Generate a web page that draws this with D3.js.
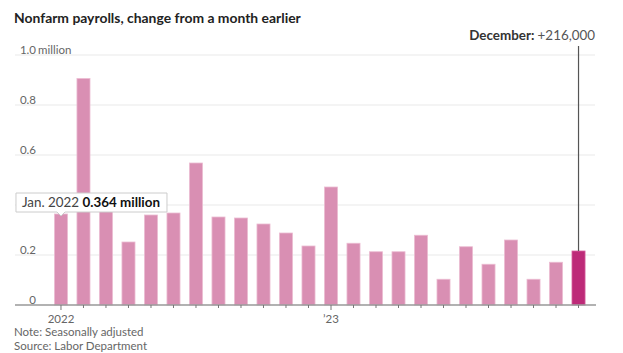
<!DOCTYPE html>
<html>
<head>
<meta charset="utf-8">
<script src="https://cdn.jsdelivr.net/npm/d3@7"></script>
<style>
  body { margin: 0; background: #fff; }
  text { font-family: Lato, "Open Sans", sans-serif; }
</style>
</head>
<body>
<div class="chart"></div>
<script>
const WIDTH = 623;
const HEIGHT = 353;

// monthly change, millions, Jan 2022 .. Dec 2023
const months = ['2022-01', '2022-02', '2022-03', '2022-04', '2022-05', '2022-06',
  '2022-07', '2022-08', '2022-09', '2022-10', '2022-11', '2022-12',
  '2023-01', '2023-02', '2023-03', '2023-04', '2023-05', '2023-06',
  '2023-07', '2023-08', '2023-09', '2023-10', '2023-11', '2023-12'];
const payrolls = [0.364, 0.906, 0.380, 0.252, 0.360, 0.368, 0.568, 0.352, 0.348, 0.324, 0.288, 0.236,
  0.472, 0.247, 0.213, 0.213, 0.279, 0.103, 0.233, 0.163, 0.260, 0.103, 0.171, 0.216];
const yTicks = [0, 0.2, 0.4, 0.6, 0.8, 1.0];
const yearLabels = {'2022-01': '2022', '2023-01': '\u201923'};

const x = d3.scaleBand().domain(months).range([45, 594.5]).padding(0.42);
const y = d3.scaleLinear().domain([0, 1]).range([305, 55]);

const svg = d3.select('.chart').append('svg')
  .attr('width', WIDTH)
  .attr('height', HEIGHT);

svg.append('text')
  .attr('x', 14).attr('y', 23)
  .attr('font-size', 13.9).attr('font-weight', 700).attr('fill', '#222')
  .text('Nonfarm payrolls, change from a month earlier');

// gridlines
svg.append('g').selectAll('line')
  .data(yTicks.filter(d => d > 0))
  .join('line')
  .attr('x1', 15).attr('x2', 595)
  .attr('y1', d => y(d)).attr('y2', d => y(d))
  .attr('stroke', '#e9e9e9').attr('stroke-width', 1);

const yLab = svg.append('g').attr('font-size', 11.5).attr('fill', '#666');
yLab.selectAll('text')
  .data(yTicks)
  .join('text')
  .attr('x', 36)
  .attr('y', d => y(d) - 1.5)
  .attr('text-anchor', 'end')
  .text(d => d === 0 ? '0' : d3.format('.1f')(d));
yLab.append('text')
  .attr('x', 38).attr('y', y(1) - 1.5)
  .text('million');

// bars
svg.append('g').selectAll('rect')
  .data(months)
  .join('rect')
  .attr('x', d => x(d))
  .attr('width', x.bandwidth())
  .attr('y', (d, i) => y(payrolls[i]))
  .attr('height', (d, i) => y(0) - y(payrolls[i]))
  .attr('fill', (d, i) => i === months.length - 1 ? '#bd2a78' : '#d98fb3')
  .attr('stroke', (d, i) => i === months.length - 1 ? '#d7609e' : '#ecbcd2')
  .attr('stroke-width', 0.8);

// x axis
svg.append('line')
  .attr('x1', 15).attr('x2', 596)
  .attr('y1', y(0)).attr('y2', y(0))
  .attr('stroke', '#999').attr('stroke-width', 1.6);

const xAxis = d3.axisBottom(x)
  .tickSize(3)
  .tickFormat(d => yearLabels[d] || '');
const xAxisG = svg.append('g')
  .attr('transform', 'translate(0,' + y(0) + ')')
  .call(xAxis);
xAxisG.select('.domain').remove();
xAxisG.selectAll('.tick line')
  .attr('stroke', '#777')
  .attr('y2', d => yearLabels[d] ? 5 : 3);
xAxisG.selectAll('text')
  .attr('y', 10)
  .attr('font-family', 'Lato, "Open Sans", sans-serif')
  .attr('font-size', 11.5)
  .attr('fill', '#666');

// December annotation
const last = months.length - 1;
const lx = x(months[last]) + x.bandwidth() / 2;
svg.append('line')
  .attr('x1', lx).attr('x2', lx)
  .attr('y1', 46).attr('y2', y(payrolls[last]))
  .attr('stroke', '#555').attr('stroke-width', 1.2);
const ann = svg.append('text')
  .attr('x', 595).attr('y', 40)
  .attr('text-anchor', 'end')
  .attr('font-size', 13.4);
ann.append('tspan').attr('font-weight', 700).attr('fill', '#333').text('December: ');
ann.append('tspan').attr('fill', '#555').text('+' + d3.format(',')(Math.round(payrolls[last] * 1e6)));

// tooltip on first bar
const tx = x(months[0]) + x.bandwidth() / 2;
const ty = y(payrolls[0]) - 2;
const tip = svg.append('g');
tip.append('path')
  .attr('d', `M${tx - 45},${ty - 19} H${tx + 106} V${ty} H${tx + 4} L${tx},${ty + 4} L${tx - 4},${ty} H${tx - 45} Z`)
  .attr('fill', '#fff').attr('stroke', '#ccc').attr('stroke-width', 1);
const tipText = tip.append('text')
  .attr('x', tx - 39).attr('y', ty - 5)
  .attr('font-size', 13.4);
tipText.append('tspan').attr('fill', '#444').text('Jan. 2022 ');
tipText.append('tspan').attr('fill', '#111').attr('font-weight', 700).text(payrolls[0] + ' million');

// notes
const notes = svg.append('g').attr('font-size', 11.5).attr('fill', '#666');
notes.append('text').attr('x', 14).attr('y', 336).text('Note: Seasonally adjusted');
notes.append('text').attr('x', 14).attr('y', 350).text('Source: Labor Department');
</script>
</body>
</html>
